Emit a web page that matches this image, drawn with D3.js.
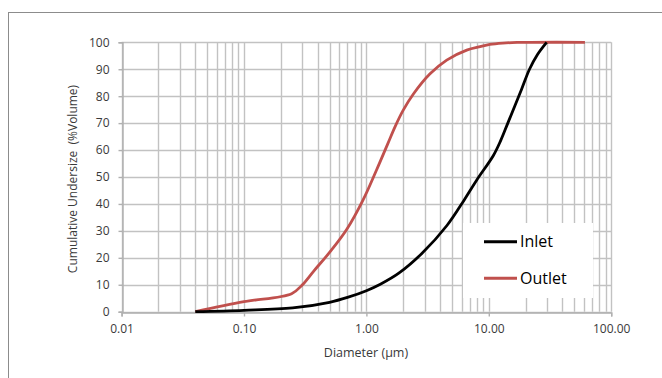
<!DOCTYPE html>
<html><head><meta charset="utf-8">
<script src="https://cdn.jsdelivr.net/npm/d3@7"></script>
<style>
html,body{margin:0;padding:0;background:#fff;}
svg{display:block;font-family:"Open Sans",sans-serif;}
</style></head>
<body>
<svg id="chart" width="662" height="378"></svg>
<script>
// ---- data ----
const inletDiameter = [0.04, 0.1, 0.25, 0.5, 0.7, 1.0, 1.3, 1.84, 2.85, 4.55, 6.3, 8.0, 10.9, 12.5, 14.3, 18.5, 21.5, 25, 29.7];
const inletValue    = [0,    0.5, 1.4,  3.5, 5.3, 7.8, 10.2, 14.3, 21.7, 32,  41.5, 49, 58,   63.5, 70,   82.5, 90,   95.5, 100];
const outletDiameter = [0.04, 0.1, 0.245, 0.3, 0.37, 0.5, 0.69, 0.94, 1.21, 1.5, 1.72, 2.0, 2.42, 3.31, 4.53, 6.6, 8.5, 10.2, 13, 17, 22, 61];
const outletValue    = [0,    3.7, 6.7,   10,  15,   22,  30.5, 41.5, 52.6, 62.5, 68.8, 74.8, 80.8, 88.3, 93.4, 97.1, 98.4, 99.2, 99.7, 99.95, 100, 100];
const xTickValues = [0.01, 0.1, 1, 10, 100];
const xTickLabels = ["0.01", "0.10", "1.00", "10.00", "100.00"];
const yTickValues = [0, 10, 20, 30, 40, 50, 60, 70, 80, 90, 100];
const seriesNames = ["Inlet", "Outlet"];
const seriesColors = ["#000000", "#c0504d"];

const svg = d3.select("#chart");
// outer frame
svg.append("rect").attr("x", 8.5).attr("y", 12.5).attr("width", 700).attr("height", 400)
  .attr("fill", "#fff").attr("stroke", "#8c8c8c").attr("stroke-width", 1);

const x = d3.scaleLog().domain([0.01, 100]).range([121.6, 611.2]);
const y = d3.scaleLinear().domain([0, 100]).range([311.7, 42.3]);

// minor + major vertical gridlines
const vgrid = [];
for (let e = -2; e < 2; e++) for (let k = 1; k <= 9; k++) vgrid.push(k * Math.pow(10, e));
vgrid.push(100);
const grid = svg.append("g");
grid.selectAll("line.v").data(vgrid).join("line")
  .attr("x1", d => Math.round(x(d)) + 0.5).attr("x2", d => Math.round(x(d)) + 0.5)
  .attr("y1", y(100)).attr("y2", y(0))
  .attr("stroke", "#c2c2c2").attr("stroke-width", 1.4);
grid.selectAll("line.h").data(yTickValues).join("line")
  .attr("x1", x(0.01)).attr("x2", x(100))
  .attr("y1", d => Math.round(y(d)) + 0.5).attr("y2", d => Math.round(y(d)) + 0.5)
  .attr("stroke", "#c2c2c2").attr("stroke-width", 1.4);

// axes
const xAxis = d3.axisBottom(x).tickValues(xTickValues).tickFormat((d, i) => xTickLabels[i]).tickSize(4).tickPadding(8);
const yAxis = d3.axisLeft(y).tickValues(yTickValues).tickSize(4).tickPadding(9);
const gx = svg.append("g").attr("transform", `translate(0,${Math.round(y(0)) + 0.5})`).call(xAxis);
const gy = svg.append("g").attr("transform", `translate(${Math.round(x(0.01)) + 0.5},0)`).call(yAxis);
[gx, gy].forEach(g => {
  g.select(".domain").attr("stroke", "#b0b0b0").attr("stroke-width", 1.4);
  g.selectAll(".tick line").attr("stroke", "#b0b0b0").attr("stroke-width", 1.4);
  g.selectAll(".tick text").attr("fill", "#3a3a3a").style("font-size", "12px").style("font-family", "'Open Sans',sans-serif");
});

// legend box (covers grid)
svg.append("rect").attr("x", 463).attr("y", 223).attr("width", 130).attr("height", 75).attr("fill", "#fff");

// curves
const line = d3.line().x(d => x(d[0])).y(d => y(d[1])).curve(d3.curveCatmullRom.alpha(0.5));
const series = [
  {name: seriesNames[0], color: seriesColors[0], pts: inletDiameter.map((d, i) => [d, inletValue[i]])},
  {name: seriesNames[1], color: seriesColors[1], pts: outletDiameter.map((d, i) => [d, outletValue[i]])}
];
svg.append("g").selectAll("path").data(series.slice().reverse()).join("path")
  .attr("d", s => line(s.pts)).attr("fill", "none")
  .attr("stroke", s => s.color).attr("stroke-width", 2.8).attr("stroke-linejoin", "round");

// legend
const lg = svg.append("g");
series.forEach((s, i) => {
  const cy = 241.7 + i * 36.6;
  lg.append("line").attr("x1", 484).attr("x2", 517).attr("y1", cy).attr("y2", cy)
    .attr("stroke", s.color).attr("stroke-width", 3);
  lg.append("text").attr("x", 520).attr("y", cy).attr("dy", "0.36em")
    .attr("fill", "#000").style("font-size", "16px").text(s.name);
});

// axis titles
svg.append("text").attr("x", 366).attr("y", 353).attr("dy", "0.35em").attr("text-anchor", "middle")
  .attr("fill", "#3a3a3a").style("font-size", "12.5px").text("Diameter (µm)");
svg.append("text").attr("transform", "translate(73,179) rotate(-90)").attr("dy", "0.35em").attr("text-anchor", "middle")
  .attr("fill", "#3a3a3a").style("font-size", "12px").attr("xml:space", "preserve").style("white-space", "pre")
  .text("Cumulative Undersize  (%Volume)");
</script>
</body></html>
